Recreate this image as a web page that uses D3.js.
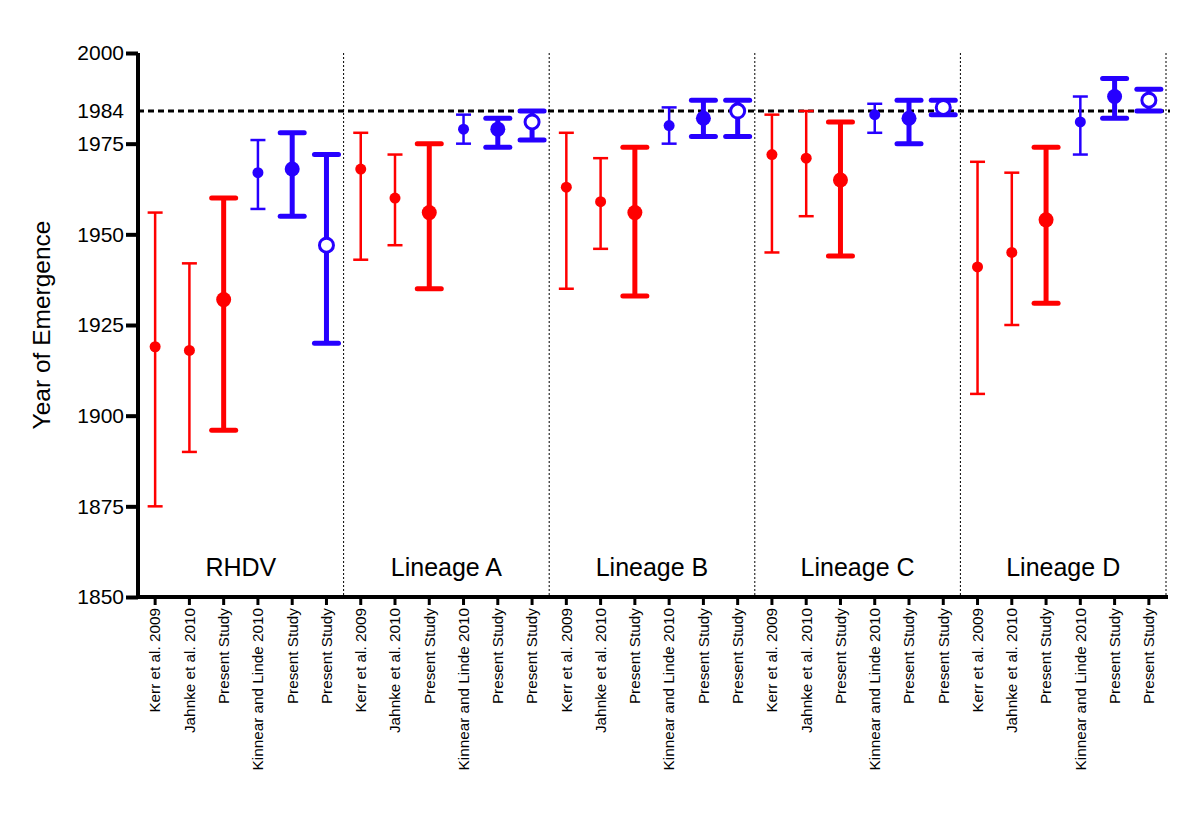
<!DOCTYPE html>
<html><head><meta charset="utf-8">
<script src="https://cdn.jsdelivr.net/npm/d3@7"></script>
<style>body{margin:0;background:#fff}svg{display:block}text{font-family:"Liberation Sans",Arial,sans-serif}</style>
</head><body><svg id="c" width="1200" height="815"></svg>
<script>
const groups = ["RHDV","Lineage A","Lineage B","Lineage C","Lineage D"];
const studies = ["Kerr et al. 2009","Jahnke et al. 2010","Present Study","Kinnear and Linde 2010","Present Study","Present Study"];
const studyColor = ["red","red","red","blue","blue","blue"];
const studyWeight = ["thin","thin","thick","thin","thick","thick"];
const studyOpen = [false,false,false,false,false,true];
// per group, per study
const estimate = [
  [1919,1918,1932,1967,1968,1947],
  [1968,1960,1956,1979,1979,1981],
  [1963,1959,1956,1980,1982,1984],
  [1972,1971,1965,1983,1982,1985],
  [1941,1945,1954,1981,1988,1987]
];
const lower = [
  [1875,1890,1896,1957,1955,1920],
  [1943,1947,1935,1975,1974,1976],
  [1935,1946,1933,1975,1977,1977],
  [1945,1955,1944,1978,1975,1983],
  [1906,1925,1931,1972,1982,1984]
];
const upper = [
  [1956,1942,1960,1976,1978,1972],
  [1978,1972,1975,1983,1982,1984],
  [1978,1971,1974,1985,1987,1987],
  [1983,1984,1981,1986,1987,1987],
  [1970,1967,1974,1988,1993,1990]
];
const yTicks = [1850,1875,1900,1925,1950,1975,2000];
const refYear = 1984;

const colors = {red:"#ff0000", blue:"#2600ff"};
const svg = d3.select("#c");
const L = 138, R = 1166, T = 53, B = 597;

const keys = [];
groups.forEach((g,gi)=>studies.forEach((s,si)=>keys.push(gi+"_"+si)));
const data = [];
groups.forEach((g,gi)=>studies.forEach((s,si)=>data.push({key:gi+"_"+si,gi,si,study:s,est:estimate[gi][si],lo:lower[gi][si],hi:upper[gi][si]})));

const x = d3.scaleBand().domain(keys).range([L,R]);
const y = d3.scaleLinear().domain([1850,2000]).range([B,T]);
const gx = d3.scaleBand().domain(groups).range([L,R]);

// group separators
svg.append("g").selectAll("line").data(groups).join("line")
  .attr("x1",d=>gx(d)+gx.bandwidth()).attr("x2",d=>gx(d)+gx.bandwidth())
  .attr("y1",T).attr("y2",B)
  .attr("stroke","#000").attr("stroke-width",1).attr("stroke-dasharray","2,2");

// reference line
svg.append("line").attr("x1",L).attr("x2",R+4).attr("y1",y(refYear)).attr("y2",y(refYear))
  .attr("stroke","#000").attr("stroke-width",3).attr("stroke-dasharray","6,4");

// group labels
svg.append("g").selectAll("text").data(groups).join("text")
  .attr("x",d=>gx(d)+gx.bandwidth()/2).attr("y",576)
  .attr("text-anchor","middle").attr("font-size",25).text(d=>d);

// error bars
const eb = svg.append("g").selectAll("g").data(data).join("g")
  .attr("transform",d=>`translate(${x(d.key)+x.bandwidth()/2},0)`);
eb.each(function(d){
  const g = d3.select(this);
  const c = colors[studyColor[d.si]];
  const thick = studyWeight[d.si]==="thick";
  const lw = thick?5:2.5;
  const cw = thick?24:15;
  const r = thick?7.5:5.5;
  g.append("line").attr("x1",0).attr("x2",0).attr("y1",y(d.hi)).attr("y2",y(d.lo)).attr("stroke",c).attr("stroke-width",lw);
  [d.hi,d.lo].forEach(v=>g.append("line").attr("x1",-cw/2).attr("x2",cw/2).attr("y1",y(v)).attr("y2",y(v))
    .attr("stroke",c).attr("stroke-width",lw).attr("stroke-linecap",thick?"round":"butt"));
  if(studyOpen[d.si]){
    g.append("circle").attr("cx",0).attr("cy",y(d.est)).attr("r",7).attr("fill","#fff").attr("stroke",c).attr("stroke-width",3);
  } else {
    g.append("circle").attr("cx",0).attr("cy",y(d.est)).attr("r",r).attr("fill",c);
  }
});

// y axis
const ya = svg.append("g").attr("transform",`translate(${L},0)`)
  .call(d3.axisLeft(y).tickValues(yTicks).tickFormat(d3.format("d")).tickSize(12).tickPadding(2));
ya.select(".domain").attr("stroke-width",4).attr("d",`M0,${T}V${B}`);
ya.selectAll(".tick line").attr("stroke-width",4);
ya.selectAll(".tick text").attr("font-size",21).attr("font-family","'Liberation Sans',Arial,sans-serif").attr("fill","#000");
ya.append("text").attr("x",-14).attr("y",y(refYear)).attr("dy","0.32em").attr("text-anchor","end")
  .attr("font-size",21).attr("fill","#000").text(refYear);

// x axis
const xa = svg.append("g").attr("transform",`translate(0,${B})`)
  .call(d3.axisBottom(x).tickSize(8).tickFormat(k=>studies[+k.split("_")[1]]));
xa.select(".domain").attr("stroke-width",4).attr("d",`M${L-2},0H${R+2}`);
xa.selectAll(".tick line").attr("stroke-width",3);
xa.selectAll(".tick text").attr("font-size",15.3).attr("font-family","'Liberation Sans',Arial,sans-serif").attr("fill","#000")
  .attr("transform","rotate(-90)").attr("text-anchor","end").attr("x",-11).attr("y",0).attr("dy","0.35em");

// y title
svg.append("text").attr("transform",`translate(50,${(T+B)/2}) rotate(-90)`).attr("text-anchor","middle")
  .attr("font-size",24.5).text("Year of Emergence");
</script></body></html>
